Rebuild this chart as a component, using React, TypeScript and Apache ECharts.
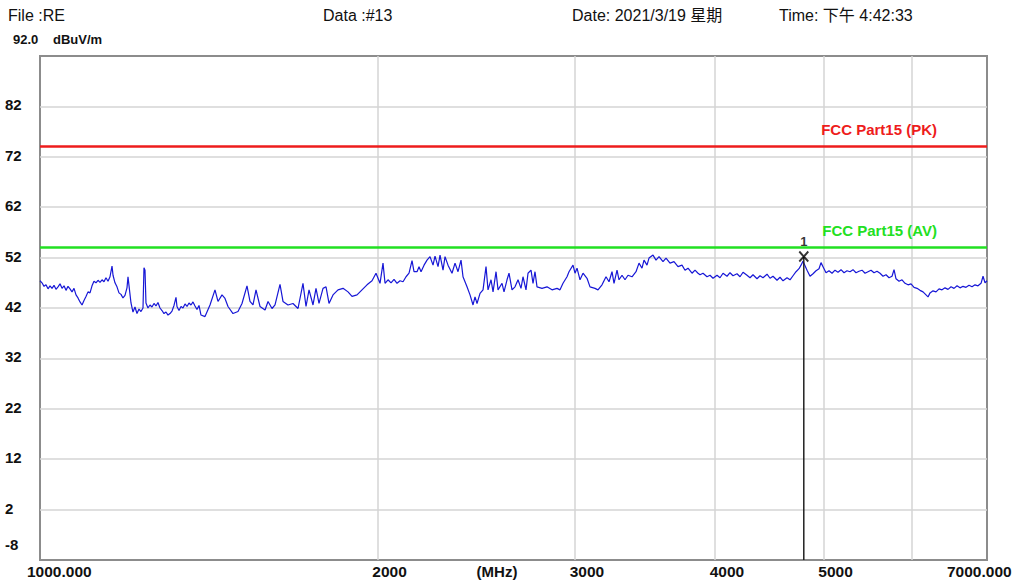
import React, { useEffect, useRef } from 'react';
import * as echarts from 'echarts';

// Measured trace (frequency in MHz, level in dBuV/m)
const freqMHz = [
  1000, 1004.1, 1008.3, 1012.4, 1016.6, 1020.8, 1025.0, 1029.2, 1033.4, 1037.7,
  1042.0, 1046.3, 1050.6, 1054.9, 1059.3, 1063.6, 1068.0, 1072.4, 1076.8, 1081.2,
  1085.7, 1090.2, 1094.6, 1099.1, 1103.7, 1108.2, 1112.8, 1117.3, 1121.9, 1126.6,
  1131.2, 1135.9, 1140.5, 1145.2, 1150.0, 1154.7, 1159.5, 1161.9, 1166.6, 1171.4,
  1176.2, 1181.1, 1185.9, 1190.8, 1195.7, 1198.2, 1200.6, 1205.6, 1210.5, 1215.5,
  1220.5, 1225.6, 1230.6, 1235.7, 1238.2, 1240.8, 1243.3, 1248.4, 1253.6, 1258.7,
  1263.9, 1269.1, 1274.3, 1279.6, 1284.9, 1290.2, 1295.5, 1300.8, 1306.2, 1311.6,
  1317.0, 1322.4, 1325.1, 1330.6, 1336.1, 1341.6, 1347.1, 1352.7, 1358.2, 1363.8,
  1369.4, 1375.1, 1380.7, 1386.4, 1392.1,
  1403.6, 1418.1, 1432.7, 1441.6, 1453.5, 1462.5, 1471.5, 1486.7, 1502.1, 1514.5,
  1530.1, 1539.6, 1549.1, 1558.7, 1571.6, 1587.9, 1597.7, 1610.8, 1620.8, 1637.5,
  1647.6, 1664.6, 1681.8, 1699.2, 1716.7, 1727.4, 1738.1, 1752.4, 1763.2, 1774.1,
  1788.8, 1799.9, 1811.0, 1825.9, 1844.8, 1863.9, 1883.1, 1898.6, 1918.3, 1938.0,
  1958.1, 1978.3, 1994.6, 2011.1,
  2023.5, 2031.9, 2044.4, 2057.1, 2069.8, 2082.6, 2095.5, 2108.5, 2121.5, 2134.6,
  2147.8, 2156.6, 2169.9, 2178.9, 2187.9, 2201.5, 2215.0, 2228.7, 2242.5, 2251.7,
  2265.7, 2275.0, 2289.1, 2298.5, 2312.7, 2331.7, 2346.2, 2360.7, 2375.3, 2385.0,
  2404.7, 2419.6, 2434.6, 2444.6, 2454.7, 2469.9, 2485.2, 2500.5, 2510.8, 2526.4,
  2536.8, 2552.5, 2563.0, 2584.1, 2594.7, 2610.8, 2621.5, 2637.7, 2654.0, 2670.5,
  2686.9, 2697.9, 2714.6, 2725.8, 2742.7, 2754.0, 2765.3, 2776.7, 2805.4, 2834.3,
  2863.6, 2893.2, 2911.1, 2929.1, 2953.3, 2965.4, 2989.9, 3002.2, 3014.7, 3033.2,
  3052.0, 3077.2, 3096.2, 3128.1, 3147.5, 3173.5, 3199.7, 3219.5, 3239.4, 3252.7,
  3272.9, 3286.4, 3306.7, 3327.1, 3347.6, 3375.3, 3403.2, 3424.2, 3445.3, 3459.5,
  3480.9, 3495.2, 3524.1, 3545.9, 3567.9, 3597.3, 3619.6, 3649.4, 3679.4, 3709.8,
  3740.5, 3763.7, 3786.9, 3818.2, 3841.8, 3865.5,
  3881.5, 3905.5, 3937.7, 3962.1, 3986.6, 4019.5, 4044.3, 4069.3, 4102.9, 4128.2,
  4153.7, 4188.0, 4214.0, 4240.0, 4275.0, 4301.5, 4328.0, 4363.8, 4390.8, 4417.9,
  4454.4, 4482.0, 4509.6, 4546.9, 4575.0, 4603.3, 4641.3, 4670.0, 4698.8, 4727.9,
  4757.1, 4776.8, 4796.5, 4816.3, 4836.2, 4866.0, 4896.1, 4926.4, 4956.8, 4977.1,
  4997.6, 5028.6, 5059.6, 5090.9, 5122.3, 5154.0, 5185.9, 5218.0, 5250.3, 5282.7,
  5315.4, 5348.2, 5381.3, 5414.7, 5448.1, 5481.8, 5515.7, 5549.8, 5584.1, 5618.7,
  5653.4, 5688.4, 5723.6, 5759.0, 5782.7, 5806.5, 5842.4, 5878.5, 5914.8, 5951.4,
  5988.2, 6025.2, 6062.5, 6100.0, 6137.7, 6175.7, 6201.1, 6226.6, 6265.1, 6303.9,
  6342.9, 6382.1, 6421.6, 6461.3, 6501.3, 6541.5, 6582.0, 6622.6, 6663.6, 6704.8,
  6746.3, 6788.0, 6829.9, 6872.1, 6914.6, 6943.1, 6971.7, 7000
];

const levelDbuV = [
  47.4, 47.0, 46.3, 46.6, 45.8, 46.4, 45.9, 46.5, 45.7, 46.2,
  46.8, 45.9, 46.4, 45.5, 46.3, 45.8, 45.2, 45.9, 44.6, 44.0,
  43.2, 42.6, 43.5, 44.3, 45.2, 45.0, 46.4, 47.3, 47.0, 47.5,
  47.1, 47.6, 47.2, 48.0, 47.3, 48.2, 50.3, 48.5, 47.0, 46.2,
  45.0, 44.7, 44.0, 44.5, 46.0, 48.2, 46.5, 43.0, 41.2, 42.2,
  40.9, 41.8, 41.3, 42.0, 50.0, 49.5, 43.0, 42.0, 42.6, 42.2,
  42.9, 42.4, 43.1, 42.0, 41.5, 40.9, 41.2, 40.6, 40.9, 41.4,
  42.5, 44.1, 42.3, 41.5, 42.3, 42.0, 42.8, 42.3, 43.0, 42.6,
  43.2, 42.4, 41.7, 42.5, 40.6,
  40.3, 42.6, 45.6, 43.3, 44.6, 43.9, 42.3, 40.9, 41.3, 42.9,
  46.4, 43.3, 42.6, 45.6, 42.3, 41.6, 43.3, 41.9, 42.6, 46.7,
  43.3, 42.6, 42.9, 41.9, 46.9, 42.3, 45.6, 42.6, 45.9, 42.9,
  45.9, 46.2, 42.9, 44.6, 45.6, 45.9, 45.2, 44.3, 44.6, 45.6,
  46.6, 47.4, 48.9, 46.9,
  50.9, 46.9, 47.6, 47.0, 47.7, 46.9, 47.4, 47.2, 48.2, 48.9,
  51.4, 49.2, 49.2, 50.2, 49.2, 50.5, 51.5, 52.2, 50.5, 52.3,
  50.2, 52.5, 49.5, 52.2, 50.5, 48.9, 50.9, 49.2, 51.5, 48.2,
  46.2, 44.6, 42.6, 44.2, 42.9, 44.9, 45.6, 50.2, 45.6, 47.6,
  45.2, 49.2, 45.6, 46.9, 45.2, 47.6, 48.9, 45.6, 46.2, 47.6,
  45.9, 48.2, 45.6, 48.9, 49.5, 46.9, 49.2, 46.2, 45.9, 46.2,
  45.6, 45.9, 45.6, 46.9, 48.2, 49.2, 50.5, 48.9, 49.9, 47.6,
  48.9, 47.9, 46.2, 45.9, 45.6, 46.6, 48.2, 47.2, 49.2, 46.9,
  49.5, 47.6, 48.5, 47.6, 48.5, 48.2, 49.2, 50.9, 49.9, 51.5,
  50.5, 51.9, 52.5, 51.5, 52.2, 51.2, 51.9, 50.9, 51.2, 50.2,
  50.5, 49.5, 49.9, 48.9, 49.5, 48.9,
  48.6, 48.9, 48.2, 48.5, 47.9, 48.5, 48.0, 48.9, 48.3, 49.0,
  48.4, 48.8, 48.2, 49.1, 48.5, 48.0, 48.6, 47.8, 48.4, 48.0,
  48.7, 47.9, 48.3, 47.5, 48.1, 47.4, 48.0, 47.6, 48.4, 49.2,
  49.8, 50.5, 51.3, 50.4, 49.5, 48.3, 48.8, 49.4, 49.8, 51.0,
  50.2, 49.0, 49.4, 48.9, 49.5, 49.1, 49.6, 49.0, 49.4, 49.2,
  49.6, 49.0, 49.3, 49.5, 48.9, 49.2, 49.5, 49.0, 49.3, 48.9,
  48.3, 48.6, 48.0, 48.3, 49.6, 47.8, 47.3, 47.6, 46.9, 46.6,
  46.8, 46.1, 45.9, 45.5, 45.2, 44.6, 44.2, 45.0, 45.4, 45.2,
  45.8, 45.6, 46.0, 45.7, 46.2, 45.9, 46.4, 46.0, 46.3, 46.1,
  46.5, 46.2, 46.6, 46.4, 46.9, 48.3, 47.0, 47.4
];

const limitPK = 74;
const limitAV = 54;
const limitPKName = 'FCC Part15 (PK)';
const limitAVName = 'FCC Part15 (AV)';
const markerFreq = 4804;
const markerLevel = 52.2;
const markerName = '1';

const xLabelValues = [1000, 2000, 3000, 4000, 5000, 7000];
const xGridValues = [1000, 2000, 3000, 4000, 5000, 6000, 7000];
const yMin = -8;
const yMax = 92;
const yStep = 10;

const headerTexts = ['File :RE', 'Data :#13', 'Date: 2021/3/19 星期', 'Time: 下午 4:42:33'];
const topValueText = '92.0';
const unitText = 'dBuV/m';
const xUnitText = '(MHz)';

const FONT = '"Liberation Sans", Arial, "Noto Sans CJK SC", sans-serif';
const INK = '#111111';

export default function App() {
  const ref = useRef<HTMLDivElement>(null);

  useEffect(() => {
    if (!ref.current) return;
    const chart = echarts.init(ref.current, undefined, { renderer: 'svg' });

    const trace = freqMHz.map((f, i) => [f, levelDbuV[i]]);
    const axisFont = { fontFamily: FONT, fontWeight: 'bold', fontSize: 15.5, color: INK };
    const yFont = { fontFamily: FONT, fontWeight: 'bold', fontSize: 15, color: INK };

    const headerX = [8, 323, 572, 779];

    const option: any = {
      animation: false,
      backgroundColor: '#ffffff',
      textStyle: { fontFamily: FONT },
      grid: {
        left: 40, right: 30, top: 56, bottom: 24,
        show: true, borderColor: '#8c8c8c', borderWidth: 2, backgroundColor: 'transparent'
      },
      xAxis: {
        type: 'log',
        logBase: 10,
        min: 1000,
        max: 7000,
        axisLine: { show: false },
        axisTick: { show: false, customValues: xGridValues },
        splitLine: { show: true, showMinLine: false, showMaxLine: false, lineStyle: { color: '#d4d4d4', width: 1.5 } },
        axisLabel: {
          customValues: xLabelValues,
          margin: 4,
          ...axisFont,
          formatter: (v: number) =>
            v === 1000 ? '{first|1000.000}' : v === 7000 ? '{last|7000.000}' : '{mid|' + Math.round(v) + '}',
          rich: {
            first: { ...axisFont, padding: [0, 0, 0, 38.6] },
            last: { ...axisFont, padding: [0, 15.4, 0, 0] },
            mid: { ...axisFont, padding: [0, 0, 0, 24.5] }
          }
        },
        name: xUnitText,
        nameLocation: 'middle',
        nameGap: 4,
        nameMoveOverlap: false,
        nameTextStyle: { ...axisFont, fontSize: 15, padding: [0, 33, 0, 0] }
      },
      yAxis: {
        type: 'value',
        min: yMin,
        max: yMax,
        interval: yStep,
        axisLine: { show: false },
        axisTick: { show: false },
        splitLine: { show: true, showMinLine: false, showMaxLine: false, lineStyle: { color: '#d4d4d4', width: 1.5 } },
        axisLabel: {
          align: 'left',
          margin: 35,
          ...yFont,
          formatter: (v: number) => (v === yMax ? '' : v === yMin ? '{lo|' + v + '}' : '{n|' + v + '}'),
          rich: {
            n: { ...yFont, padding: [0, 0, 3, 0] },
            lo: { ...yFont, padding: [0, 0, 30, 0] }
          }
        }
      },
      graphic: [
        ...headerTexts.map((t, i) => ({
          type: 'text',
          left: headerX[i],
          top: 7,
          style: { text: t, fontFamily: FONT, fontSize: 16, fill: INK }
        })),
        {
          type: 'text', left: 13, top: 33,
          style: { text: topValueText, fontFamily: FONT, fontSize: 13, fontWeight: 'bold', fill: INK }
        },
        {
          type: 'text', left: 53, top: 33,
          style: { text: unitText, fontFamily: FONT, fontSize: 13, fontWeight: 'bold', fill: INK }
        }
      ],
      series: [
        {
          name: 'Trace',
          type: 'line',
          data: trace,
          symbol: 'none',
          z: 3,
          lineStyle: { color: '#1717d6', width: 1.2 },
          markLine: {
            silent: true,
            symbol: ['none', 'none'],
            data: [
              {
                yAxis: limitPK,
                lineStyle: { color: '#ee1c1c', width: 2.5, type: 'solid' },
                label: {
                  show: true, position: 'insideEndTop', formatter: limitPKName,
                  color: '#ee1c1c', fontFamily: FONT, fontWeight: 'bold', fontSize: 15,
                  distance: 10, padding: [0, 40, 0, 0]
                }
              },
              {
                yAxis: limitAV,
                lineStyle: { color: '#22e022', width: 2.5, type: 'solid' },
                label: {
                  show: true, position: 'insideEndTop', formatter: limitAVName,
                  color: '#22e022', fontFamily: FONT, fontWeight: 'bold', fontSize: 15,
                  distance: 10, padding: [0, 40, 0, 0]
                }
              }
            ]
          }
        },
        {
          name: 'MarkerLine',
          type: 'line',
          data: [[markerFreq, markerLevel], [markerFreq, yMin]],
          symbol: 'none',
          z: 4,
          lineStyle: { color: '#222222', width: 1.5 }
        },
        {
          name: 'Marker',
          type: 'scatter',
          data: [[markerFreq, markerLevel]],
          symbol: 'path://M0,0L10,10M10,0L0,10',
          symbolSize: [9, 10],
          z: 5,
          itemStyle: { color: 'rgba(0,0,0,0)', borderColor: '#000000', borderWidth: 2 },
          label: {
            show: true, position: 'top', distance: 2.5, formatter: markerName,
            color: '#000000', fontFamily: FONT, fontWeight: 'bold', fontSize: 13
          }
        }
      ]
    };

    chart.setOption(option);
    return () => chart.dispose();
  }, []);

  return (
    <div
      ref={ref}
      style={{ position: 'absolute', left: 0, top: 0, width: 1017, height: 584, background: '#fff' }}
    />
  );
}
